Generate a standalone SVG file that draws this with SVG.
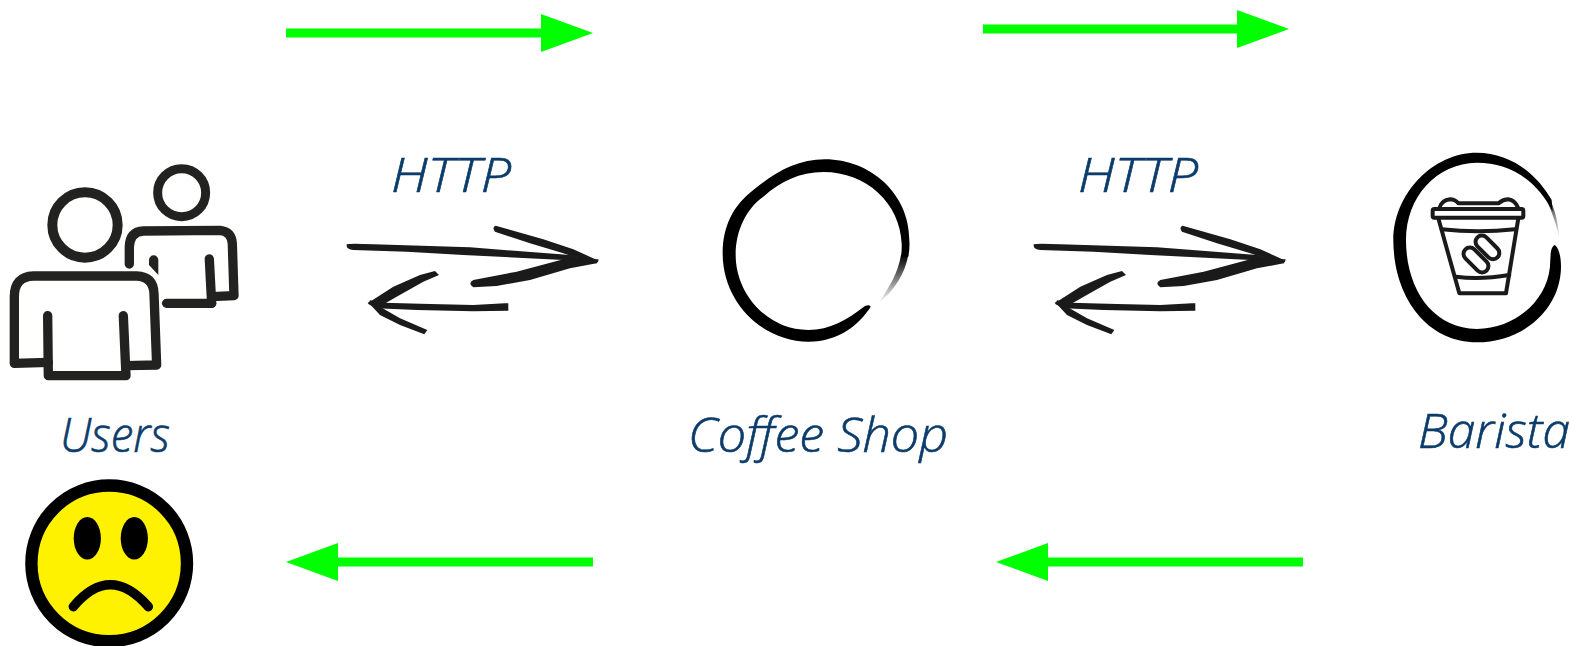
<svg xmlns="http://www.w3.org/2000/svg" width="1570" height="646" viewBox="0 0 1570 646">
<style>
.g{stroke:#00ff00;stroke-width:9;fill:none;marker-end:url(#gh)}
.t{font-family:"Open Sans","Noto Sans",sans-serif;font-style:italic;font-weight:300;fill:#0b3c6b;stroke:#0b3c6b;stroke-width:.6}
.u{fill:none;stroke:#222221;stroke-linejoin:round;stroke-linecap:round}
.c{fill:none;stroke:#1a1a1a;stroke-width:12;stroke-linejoin:round;stroke-linecap:round}
.b{fill:#1a1a1a}
</style>
<defs>
<marker id="gh" markerUnits="userSpaceOnUse" markerWidth="52" markerHeight="38" refX="0" refY="19" orient="auto"><path d="M0,0L52,19L0,38Z" fill="#00ff00"/></marker>
<linearGradient id="f1" x1="0" y1="0" x2="0" y2="1"><stop offset="0" stop-color="#000"/><stop offset="1" stop-color="#000" stop-opacity="0"/></linearGradient>
<g id="brush" class="b">
<path d="M50,313Q60,310 130,313L420,322L720,345L740,352L806,362L800,370L700,360L400,345L230,335L70,330Q48,328 50,313Z"/>
<path d="M497,257L640,298L730,328L806,362L790,370L700,340L600,310L495,275Q485,262 497,257Z"/>
<path d="M430,420L560,395L700,358L806,358L800,370L720,385L600,420L500,438L430,442Q412,430 430,420Z"/>
<path d="M535,490L535,512L430,514L260,510L140,505L115,492L120,481L160,488L300,492L430,495L525,490Z"/>
<path d="M315,393L327,405L280,425L200,470L140,505L113,490L190,440L270,405Z"/>
<path d="M113,485L150,500L210,535L292,570L283,583L210,555L150,525Z"/>
</g>
</defs>
<g id="connectors">
<path class="g" d="M286,33H541"/>
<path class="g" d="M983,29H1237"/>
<path class="g" d="M593,562H338"/>
<path class="g" d="M1303,562H1048"/>
<use href="#brush" transform="translate(330,140) scale(.3333)"/>
<use href="#brush" transform="translate(1017,140) scale(.3333)"/>
<text class="t" x="391" y="192" font-size="47" textLength="120" lengthAdjust="spacingAndGlyphs">HTTP</text>
<text class="t" x="1078" y="192" font-size="47" textLength="120" lengthAdjust="spacingAndGlyphs">HTTP</text>
</g>
<g id="users">
<g transform="translate(0,150) scale(.3333)">
<circle class="u" cx="255" cy="225" r="98" stroke-width="30"/>
<circle class="u" cx="545" cy="128" r="72" stroke-width="27"/>
<path class="u" stroke-width="28" stroke-linecap="butt" d="M388,342V290Q390,245 430,243L660,241Q695,245 697,280L702,437L635,440"/>
<path class="u" stroke-width="28" d="M628,327L635,460"/>
<path class="u" stroke-width="28" stroke-linecap="butt" d="M635,460H500"/>
<path d="M447,330A14,14 0 0 1 475,330V375L447,345Z" fill="#222221"/>
<path class="u" stroke-width="28" d="M143,497L145,677H378L370,497"/>
<path class="u" stroke-width="28" d="M145,637L43,640V440Q43,380 100,378L410,378Q460,380 462,430L470,645L378,647"/>
</g>
<text class="t" x="60" y="452" font-size="47" textLength="110" lengthAdjust="spacingAndGlyphs">Users</text>
</g>
<g id="coffee-shop">
<g transform="translate(700,150) scale(.3333)">
<path d="M512,470C480,520 420,575 325,575C190,575 68,460 68,310C68,230 100,165 160,120C220,70 290,28 375,28C510,28 628,130 628,270Q630,295 625,320L603,320Q606,300 605,280C600,160 500,66 370,66C300,66 240,95 190,140C140,175 107,240 107,315C107,430 200,540 325,540C390,540 440,510 495,468Q510,462 512,470Z"/>
<path d="M625,315C615,370 585,420 535,460C570,410 595,365 603,315Z" fill="url(#f1)"/>
</g>
<text class="t" x="688" y="452" font-size="47" textLength="260" lengthAdjust="spacingAndGlyphs">Coffee Shop</text>
</g>
<g id="barista">
<g transform="translate(1370,140) scale(.3333)">
<path d="M555,315C572,330 575,370 572,400C560,520 450,607 320,607C170,607 70,470 70,300C70,160 190,38 320,38C420,38 500,100 545,180L548,215C500,120 420,68 320,68C200,70 108,170 108,300C108,450 190,565 320,567C440,565 530,480 540,380C542,350 540,320 555,315Z"/>
<path d="M525,150C550,190 565,240 568,295C560,260 550,225 530,180Z" fill="url(#f1)"/>
<rect class="c" x="188" y="207" width="272" height="26" rx="5"/>
<path class="c" d="M208,205Q215,180 240,178Q255,178 265,190H385Q400,178 415,178Q435,180 445,205"/>
<path class="c" d="M205,235L268,460H408L445,235"/>
<path class="c" d="M215,268Q325,280 435,268"/>
<path class="c" d="M258,410Q330,420 418,405"/>
<rect class="c" x="273" y="341" width="90" height="38" rx="19" transform="rotate(45 318 360)"/>
<rect class="c" x="310" y="303" width="85" height="38" rx="19" transform="rotate(45 352 322)"/>
</g>
<text class="t" x="1418" y="448" font-size="47" textLength="152" lengthAdjust="spacingAndGlyphs">Barista</text>
</g>
<g id="sad-face">
<circle cx="109.2" cy="563.3" r="77.8" fill="#fff200" stroke="#000" stroke-width="12.4"/>
<ellipse cx="87.3" cy="538.3" rx="13.6" ry="21.3"/>
<ellipse cx="134.3" cy="538.3" rx="13.6" ry="21.3"/>
<path d="M73.3,606.7Q110,563 148.3,606.7" fill="none" stroke="#000" stroke-width="9.5" stroke-linecap="round"/>
</g>
</svg>
